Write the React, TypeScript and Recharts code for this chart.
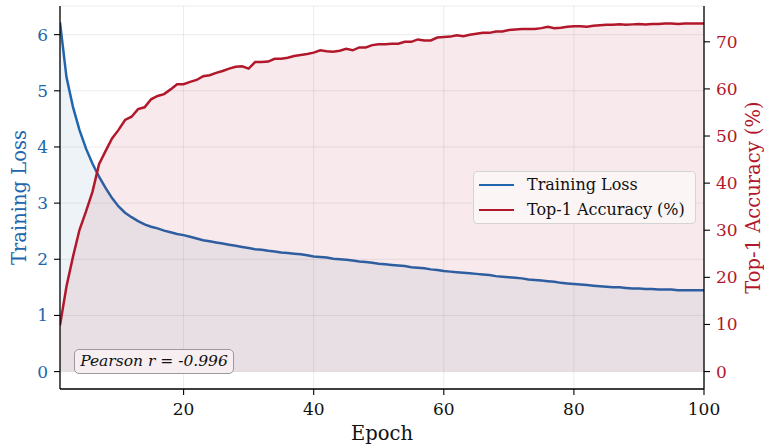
import React from 'react';
import { ComposedChart, Area, XAxis, YAxis, CartesianGrid, Legend, Label } from 'recharts';

const epochs = [
  1, 2, 3, 4, 5, 6, 7, 8, 9, 10, 11, 12, 13, 14, 15, 16, 17, 18, 19, 20,
  21, 22, 23, 24, 25, 26, 27, 28, 29, 30, 31, 32, 33, 34, 35, 36, 37, 38, 39, 40,
  41, 42, 43, 44, 45, 46, 47, 48, 49, 50, 51, 52, 53, 54, 55, 56, 57, 58, 59, 60,
  61, 62, 63, 64, 65, 66, 67, 68, 69, 70, 71, 72, 73, 74, 75, 76, 77, 78, 79, 80,
  81, 82, 83, 84, 85, 86, 87, 88, 89, 90, 91, 92, 93, 94, 95, 96, 97, 98, 99, 100,
];

const trainingLoss = [
  6.22, 5.24, 4.71, 4.30, 3.97, 3.70, 3.47, 3.27, 3.09, 2.94,
  2.83, 2.75, 2.68, 2.62, 2.58, 2.55, 2.51, 2.48, 2.45, 2.43,
  2.40, 2.37, 2.34, 2.32, 2.30, 2.28, 2.26, 2.24, 2.22, 2.20,
  2.18, 2.17, 2.15, 2.14, 2.12, 2.11, 2.10, 2.09, 2.07, 2.05,
  2.04, 2.03, 2.01, 2.00, 1.99, 1.98, 1.96, 1.95, 1.94, 1.92,
  1.91, 1.90, 1.89, 1.88, 1.86, 1.85, 1.84, 1.82, 1.81, 1.79,
  1.78, 1.77, 1.76, 1.75, 1.74, 1.73, 1.72, 1.70, 1.69, 1.68,
  1.67, 1.66, 1.64, 1.63, 1.62, 1.61, 1.60, 1.58, 1.57, 1.56,
  1.55, 1.54, 1.53, 1.52, 1.51, 1.50, 1.50, 1.49, 1.48, 1.48,
  1.47, 1.47, 1.46, 1.46, 1.46, 1.45, 1.45, 1.45, 1.45, 1.45,
];

const top1Accuracy = [
  9.8, 18.1, 24.4, 30.1, 34.0, 38.2, 44.0, 46.8, 49.5, 51.3,
  53.4, 54.1, 55.7, 56.1, 57.8, 58.5, 58.9, 59.9, 61.0, 61.0,
  61.5, 61.9, 62.7, 62.9, 63.4, 63.8, 64.3, 64.7, 64.8, 64.3,
  65.7, 65.7, 65.8, 66.4, 66.4, 66.6, 67.0, 67.2, 67.4, 67.7,
  68.2, 68.0, 67.9, 68.1, 68.5, 68.2, 68.8, 68.8, 69.3, 69.5,
  69.5, 69.6, 69.6, 70.0, 70.0, 70.5, 70.3, 70.3, 70.9, 71.0,
  71.1, 71.4, 71.2, 71.5, 71.7, 71.9, 71.9, 72.2, 72.2, 72.5,
  72.6, 72.7, 72.7, 72.7, 72.9, 73.2, 72.9, 73.0, 73.2, 73.3,
  73.3, 73.2, 73.4, 73.5, 73.6, 73.6, 73.7, 73.6, 73.7, 73.8,
  73.7, 73.8, 73.8, 73.9, 73.9, 73.8, 73.9, 73.9, 73.9, 73.9,
];

const xTicks = [20, 40, 60, 80, 100];
const lossTicks = [0, 1, 2, 3, 4, 5, 6];
const accTicks = [0, 10, 20, 30, 40, 50, 60, 70];
const legendOrder = ['Training Loss', 'Top-1 Accuracy (%)'];
const pearsonText = 'Pearson r = -0.996';

const BLUE = '#2166ac';
const RED = '#b2182b';
const FONT = '"DejaVu Serif", serif';

const data = epochs.map((e, i) => ({ epoch: e, loss: trainingLoss[i], acc: top1Accuracy[i] }));

const leftTitle = (props: any) => {
  const vb = props.viewBox || {};
  const cx = vb.x + 26;
  const cy = vb.y + vb.height / 2;
  return (
    <text x={cx} y={cy} transform={`rotate(-90, ${cx}, ${cy})`} textAnchor="middle" fill={BLUE} fontSize={19.5} fontFamily={FONT}>
      Training Loss
    </text>
  );
};

const rightTitle = (props: any) => {
  const vb = props.viewBox || {};
  const cx = vb.x + 56;
  const cy = vb.y + vb.height / 2;
  return (
    <text x={cx} y={cy} transform={`rotate(-90, ${cx}, ${cy})`} textAnchor="middle" fill={RED} fontSize={19.5} fontFamily={FONT}>
      Top-1 Accuracy (%)
    </text>
  );
};

const bottomTitle = (props: any) => {
  const vb = props.viewBox || {};
  const cx = vb.x + vb.width / 2;
  return (
    <text x={cx} y={vb.y + 51} textAnchor="middle" fill="#111" fontSize={19.5} fontFamily={FONT}>
      Epoch
    </text>
  );
};

const renderLegend = (props: any) => {
  const payload = [...(props.payload || [])].sort(
    (a: any, b: any) => legendOrder.indexOf(a.value) - legendOrder.indexOf(b.value)
  );
  return (
    <div
      style={{
        position: 'relative',
        boxSizing: 'border-box',
        width: 223,
        height: 53,
        border: '1px solid #d4d4d4',
        borderRadius: 4,
        background: 'rgba(251,246,247,0.9)',
        fontFamily: FONT,
        fontSize: 16,
        color: '#111',
      }}
    >
      {payload.map((p: any, i: number) => (
        <div key={i} style={{ position: 'absolute', left: 0, top: 1 + i * 25, height: 24, width: 221 }}>
          <div style={{ position: 'absolute', left: 5, top: 11, width: 35, height: 0, borderTop: `2.5px solid ${p.color}` }} />
          <span style={{ position: 'absolute', left: 53, top: 2, lineHeight: '20px', whiteSpace: 'nowrap' }}>{p.value}</span>
        </div>
      ))}
    </div>
  );
};

export default function App() {
  return (
    <div style={{ position: 'absolute', left: 0, top: 0, width: 764, height: 446, background: '#fff', fontFamily: FONT }}>
      <ComposedChart width={764} height={446} data={data} margin={{ top: 6, right: 0, bottom: 0, left: 0 }}>
        <CartesianGrid yAxisId="left" stroke="#000" strokeOpacity={0.08} strokeWidth={1} />
        <XAxis
          dataKey="epoch"
          type="number"
          domain={[1, 100]}
          ticks={xTicks}
          allowDataOverflow
          height={57}
          tickSize={6}
          tickMargin={8}
          tick={{ fill: '#111', fontSize: 17, fontFamily: FONT }}
          tickLine={{ stroke: '#000', strokeWidth: 1.1 }}
          axisLine={{ stroke: '#000', strokeWidth: 1.3 }}
          label={<Label content={bottomTitle} />}
        />
        <XAxis
          xAxisId="top"
          orientation="top"
          dataKey="epoch"
          type="number"
          domain={[1, 100]}
          height={0}
          tick={false}
          tickLine={false}
          axisLine={{ stroke: '#000', strokeWidth: 1.3 }}
        />
        <YAxis
          yAxisId="left"
          orientation="left"
          width={60}
          type="number"
          domain={[-0.31, 6.51]}
          ticks={lossTicks}
          allowDataOverflow
          tickSize={6}
          tickMargin={6}
          tick={{ fill: BLUE, fontSize: 17, fontFamily: FONT }}
          tickLine={{ stroke: '#000', strokeWidth: 1.1 }}
          axisLine={{ stroke: '#000', strokeWidth: 1.3 }}
          label={<Label content={leftTitle} />}
        />
        <YAxis
          yAxisId="right"
          orientation="right"
          width={60}
          type="number"
          domain={[-3.7, 77.6]}
          ticks={accTicks}
          allowDataOverflow
          tickSize={6}
          tickMargin={6}
          tick={{ fill: RED, fontSize: 17, fontFamily: FONT }}
          tickLine={{ stroke: '#000', strokeWidth: 1.1 }}
          axisLine={{ stroke: '#000', strokeWidth: 1.3 }}
          label={<Label content={rightTitle} />}
        />
        <Area
          yAxisId="left"
          type="linear"
          dataKey="loss"
          name="Training Loss"
          stroke={BLUE}
          strokeWidth={2.5}
          fill={BLUE}
          fillOpacity={0.08}
          baseValue={0}
          dot={false}
          activeDot={false}
          isAnimationActive={false}
        />
        <Area
          yAxisId="right"
          type="linear"
          dataKey="acc"
          name="Top-1 Accuracy (%)"
          stroke={RED}
          strokeWidth={2.5}
          fill={RED}
          fillOpacity={0.09}
          baseValue={0}
          dot={false}
          activeDot={false}
          isAnimationActive={false}
        />
        <Legend
          layout="vertical"
          align="center"
          verticalAlign="middle"
          content={renderLegend}
          wrapperStyle={{ left: 473, top: 171, width: 223, height: 53 }}
        />
      </ComposedChart>
      <div
        style={{
          position: 'absolute',
          left: 74,
          top: 349,
          width: 160,
          height: 25,
          boxSizing: 'border-box',
          border: '1px solid #9a9a9a',
          borderRadius: 5,
          background: '#f6eef0',
          fontFamily: FONT,
          fontStyle: 'italic',
          fontSize: 15.5,
          color: '#111',
          textAlign: 'center',
          lineHeight: '23px',
          whiteSpace: 'nowrap',
        }}
      >
        {pearsonText}
      </div>
    </div>
  );
}
